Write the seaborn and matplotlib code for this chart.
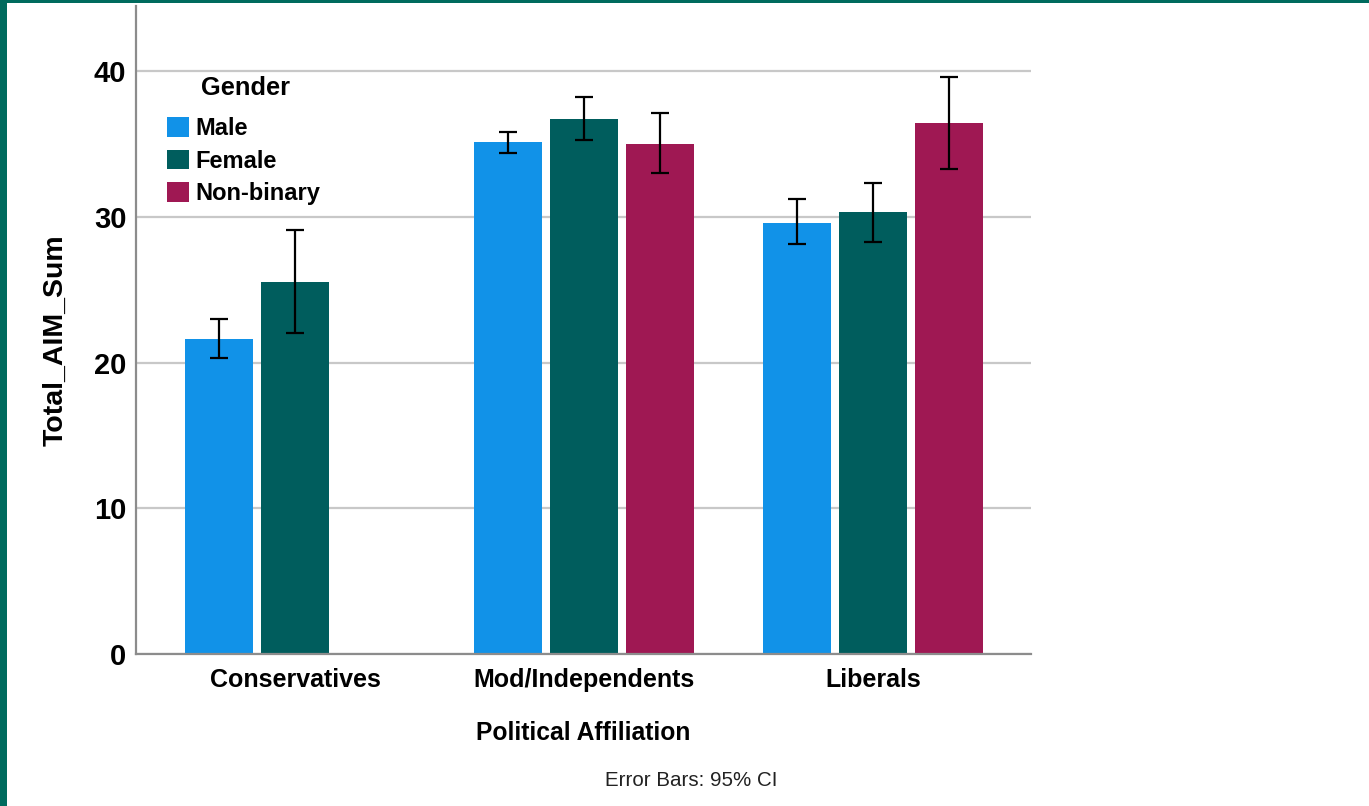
import matplotlib
matplotlib.use("Agg")
import matplotlib.pyplot as plt
from matplotlib.patches import Rectangle
from matplotlib.container import BarContainer
import numpy as np
import pandas as pd
import seaborn as sns

# Group means of Total_AIM_Sum with 95% confidence limits
affiliations = ["Conservatives", "Mod/Independents", "Liberals"]
genders = ["Male", "Female", "Non-binary"]

affiliation_col = ["Conservatives", "Conservatives",
                   "Mod/Independents", "Mod/Independents", "Mod/Independents",
                   "Liberals", "Liberals", "Liberals"]
gender_col = ["Male", "Female",
              "Male", "Female", "Non-binary",
              "Male", "Female", "Non-binary"]
mean_score = [21.6, 25.5, 35.1, 36.7, 35.0, 29.6, 30.3, 36.4]
ci_lower = [20.3, 22.0, 34.4, 35.3, 33.0, 28.1, 28.3, 33.3]
ci_upper = [23.0, 29.1, 35.8, 38.2, 37.1, 31.2, 32.3, 39.6]

gender_colors = ["#1192E8", "#005D5D", "#9F1853"]
yticks = [0, 10, 20, 30, 40]

df = pd.DataFrame({
    "Political Affiliation": affiliation_col,
    "Gender": gender_col,
    "Total_AIM_Sum": mean_score,
    "lo": ci_lower,
    "hi": ci_upper,
})

sns.set_theme(style="white")
plt.rcParams["font.family"] = ["Liberation Sans", "DejaVu Sans"]
plt.rcParams["text.color"] = "black"
plt.rcParams["axes.labelcolor"] = "black"
plt.rcParams["xtick.color"] = "black"
plt.rcParams["ytick.color"] = "black"

fig = plt.figure(figsize=(13.69, 8.06), dpi=100)
ax = fig.add_axes([136 / 1369, 1 - 654 / 806, (1031 - 136) / 1369, (654 - 6) / 806])

sns.barplot(data=df, x="Political Affiliation", y="Total_AIM_Sum", hue="Gender",
            order=affiliations, hue_order=genders, palette=gender_colors,
            errorbar=None, width=0.79, gap=0.105, saturation=1,
            linewidth=0, ax=ax)

# 95% CI whiskers at each drawn bar
bar_containers = [c for c in ax.containers if isinstance(c, BarContainer)]
for hue_idx, container in enumerate(bar_containers):
    for bar in container.patches:
        if np.isnan(bar.get_height()):
            continue
        xc = bar.get_x() + bar.get_width() / 2
        cat = affiliations[int(round(xc))]
        row = df[(df["Political Affiliation"] == cat) & (df["Gender"] == genders[hue_idx])]
        if row.empty:
            continue
        m = row["Total_AIM_Sum"].iloc[0]
        lo = row["lo"].iloc[0]
        hi = row["hi"].iloc[0]
        ax.errorbar(xc, m, yerr=[[m - lo], [hi - m]], fmt="none",
                    ecolor="black", elinewidth=1.6, capsize=6.8,
                    capthick=1.6, zorder=5)

ax.set_xlim(-0.552, 2.547)
ax.set_ylim(0, 44.46)
ax.set_yticks(yticks)
ax.yaxis.grid(True, color="#C8C8C8", linewidth=1.6)
ax.set_axisbelow(True)

for side in ["top", "right"]:
    ax.spines[side].set_visible(False)
for side in ["left", "bottom"]:
    ax.spines[side].set_color("#8C8C8C")
    ax.spines[side].set_linewidth(1.6)

ax.tick_params(axis="both", length=0)
ax.tick_params(axis="y", pad=7, labelsize=21)
ax.tick_params(axis="x", pad=10, labelsize=18)
for lbl in ax.get_yticklabels() + ax.get_xticklabels():
    lbl.set_fontweight("bold")

ax.set_ylabel("Total_AIM_Sum", fontsize=20.5, fontweight="bold")
ax.yaxis.set_label_coords((69 - 136) / 895, (654 - 340) / 648)
ax.set_xlabel("Political Affiliation", fontsize=17.7, fontweight="bold")
ax.xaxis.set_label_coords(0.5, (654 - 721) / 648)

# Legend entries, with the "Gender" heading set a little above them
handles, labels = ax.get_legend_handles_labels()
leg = ax.legend(handles, labels, frameon=False,
                loc="upper left", bbox_to_anchor=((167 - 136) / 895, (654 - 117) / 648),
                borderpad=0, borderaxespad=0, handlelength=0.92, handleheight=0.92,
                handletextpad=0.3, labelspacing=0.4,
                prop={"size": 17, "weight": "bold"})
ax.text((245 - 136) / 895, (654 - 88) / 648, "Gender", transform=ax.transAxes,
        ha="center", va="center", fontsize=18.3, fontweight="bold")

fig.text(691 / 1369, 1 - 780 / 806, "Error Bars: 95% CI", fontsize=14.8,
         ha="center", va="center", color="#222222")

# Teal frame along the top and left edges
border = "#006B5E"
fig.patches.append(Rectangle((0, 1 - 3 / 806), 1, 3 / 806, transform=fig.transFigure,
                             facecolor=border, edgecolor="none", zorder=10))
fig.patches.append(Rectangle((0, 0), 7 / 1369, 1, transform=fig.transFigure,
                             facecolor=border, edgecolor="none", zorder=10))

fig.savefig("out.png", dpi=100)
